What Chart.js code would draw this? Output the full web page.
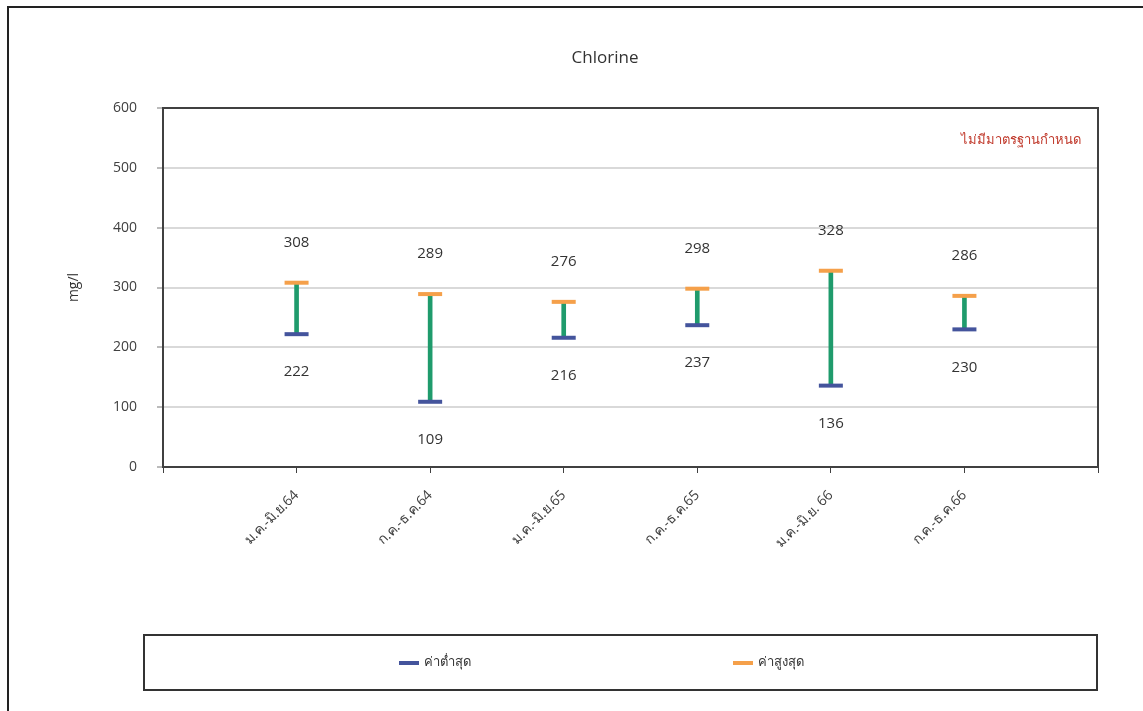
<!DOCTYPE html>
<html>
<head>
<meta charset="utf-8">
<script src="https://cdn.jsdelivr.net/npm/chart.js@4/dist/chart.umd.min.js"></script>
<style>
  html, body { margin: 0; padding: 0; background: #fff; }
  canvas { display: block; }
</style>
</head>
<body>
<canvas id="chart" width="1143" height="711"></canvas>
<script>
const periods = ["ม.ค.-มิ.ย.64", "ก.ค.-ธ.ค.64", "ม.ค.-มิ.ย.65", "ก.ค.-ธ.ค.65", "ม.ค.-มิ.ย. 66", "ก.ค.-ธ.ค.66"];
const minValues = [222, 109, 216, 237, 136, 230];
const maxValues = [308, 289, 276, 298, 328, 286];
const yTicks = [0, 100, 200, 300, 400, 500, 600];

const chartTitle = "Chlorine";
const yTitle = "mg/l";
const noteText = "ไม่มีมาตรฐานกำหนด";
const minLabel = "ค่าต่ำสุด";
const maxLabel = "ค่าสูงสุด";

const FONT = "'Open Sans', 'Noto Sans', sans-serif";
const GREEN = "#1f9b6c";
const BLUE = "#44549c";
const ORANGE = "#f5a04a";

// one empty slot on each side so the points sit in from the box edges
const labels = ["", ...periods, ""];
const pad = (arr) => [null, ...arr, null];

const decorations = {
  id: "decorations",
  afterDraw(chart) {
    const { ctx, chartArea } = chart;
    ctx.save();

    // outer frame (left + top)
    ctx.strokeStyle = "#222";
    ctx.lineWidth = 2;
    ctx.beginPath();
    ctx.moveTo(8, 711);
    ctx.lineTo(8, 7);
    ctx.lineTo(1143, 7);
    ctx.stroke();

    // plot box
    ctx.strokeStyle = "#404040";
    ctx.lineWidth = 2;
    ctx.strokeRect(chartArea.left, chartArea.top, chartArea.right - chartArea.left, chartArea.bottom - chartArea.top);

    // title
    ctx.fillStyle = "#333";
    ctx.font = "17px " + FONT;
    ctx.textAlign = "center";
    ctx.textBaseline = "middle";
    ctx.fillText(chartTitle, 605, 58);

    // y axis title
    ctx.save();
    ctx.translate(74, (chartArea.top + chartArea.bottom) / 2);
    ctx.rotate(-Math.PI / 2);
    ctx.font = "14px " + FONT;
    ctx.fillText(yTitle, 0, 0);
    ctx.restore();

    // note
    ctx.fillStyle = "#c0392b";
    ctx.font = "13px " + FONT;
    ctx.fillText(noteText, 1021, 140);

    // value labels
    ctx.fillStyle = "#333";
    ctx.font = "15px " + FONT;
    const minMeta = chart.getDatasetMeta(1);
    const maxMeta = chart.getDatasetMeta(2);
    minMeta.data.forEach((pt, i) => {
      const v = chart.data.datasets[1].data[i];
      if (v == null) return;
      ctx.fillText(String(v), pt.x, pt.y + 38);
    });
    maxMeta.data.forEach((pt, i) => {
      const v = chart.data.datasets[2].data[i];
      if (v == null) return;
      ctx.fillText(String(v), pt.x, pt.y - 40);
    });

    // legend box
    ctx.strokeStyle = "#333";
    ctx.lineWidth = 2;
    ctx.strokeRect(144, 635, 953, 55);

    const items = [
      { x: 399, text: chart.data.datasets[1].label, color: BLUE },
      { x: 733, text: chart.data.datasets[2].label, color: ORANGE }
    ];
    ctx.textAlign = "left";
    ctx.font = "13px " + FONT;
    items.forEach((item) => {
      ctx.strokeStyle = item.color;
      ctx.lineWidth = 4;
      ctx.beginPath();
      ctx.moveTo(item.x, 663);
      ctx.lineTo(item.x + 20, 663);
      ctx.stroke();
      ctx.fillStyle = "#333";
      ctx.fillText(item.text, item.x + 25, 662);
    });

    ctx.restore();
  }
};

new Chart(document.getElementById("chart"), {
  type: "bar",
  data: {
    labels: labels,
    datasets: [
      {
        label: "range",
        data: pad(minValues.map((v, i) => [v, maxValues[i]])),
        backgroundColor: GREEN,
        barThickness: 4,
        order: 2
      },
      {
        type: "line",
        label: minLabel,
        data: pad(minValues),
        showLine: false,
        pointStyle: "line",
        pointRadius: 12,
        pointBorderWidth: 4,
        borderColor: BLUE,
        backgroundColor: BLUE,
        order: 1
      },
      {
        type: "line",
        label: maxLabel,
        data: pad(maxValues),
        showLine: false,
        pointStyle: "line",
        pointRadius: 12,
        pointBorderWidth: 4,
        borderColor: ORANGE,
        backgroundColor: ORANGE,
        order: 0
      }
    ]
  },
  options: {
    responsive: false,
    animation: false,
    layout: { padding: { top: 108, right: 45, bottom: 0, left: 0 } },
    plugins: {
      legend: { display: false },
      title: { display: false },
      tooltip: { enabled: false }
    },
    scales: {
      x: {
        offset: false,
        grid: { display: true, offset: false, drawOnChartArea: false, tickLength: 6, color: "#404040" },
        border: { display: false },
        ticks: {
          autoSkip: false,
          minRotation: 45,
          maxRotation: 45,
          padding: 14,
          color: "#404040",
          font: { family: FONT, size: 14 }
        },
        afterFit(scale) { scale.height = 244; }
      },
      y: {
        min: 0,
        max: 600,
        afterBuildTicks(scale) { scale.ticks = yTicks.map((v) => ({ value: v })); },
        grid: { color: "#d9d9d9", lineWidth: 2, tickLength: 6, tickColor: "#bbb" },
        border: { display: false },
        ticks: {
          padding: 20,
          color: "#404040",
          font: { family: FONT, size: 14 }
        },
        afterFit(scale) { scale.width = 163; }
      }
    }
  },
  plugins: [decorations]
});
</script>
</body>
</html>
